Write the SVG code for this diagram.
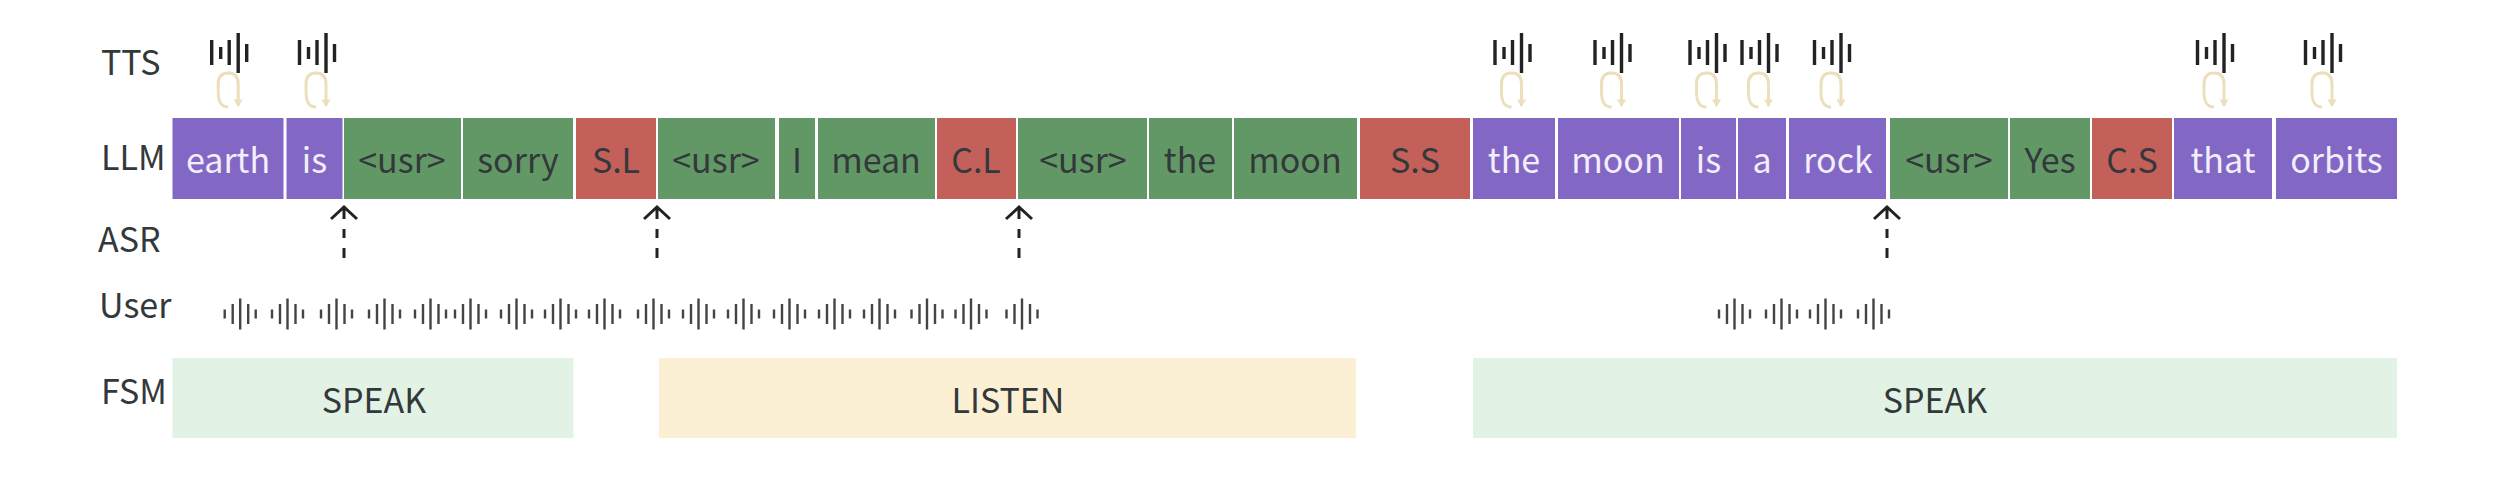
<svg xmlns="http://www.w3.org/2000/svg" width="2500" height="483" viewBox="0 0 2500 483">
<style>
text{font-family:"Noto Sans CJK SC","Noto Sans",sans-serif;font-size:34px;fill:#33383a;text-anchor:middle}
.lab{text-anchor:start}
.p{fill:#8268c4}.g{fill:#629866}.r{fill:#c4605a}
.w{fill:#f3eefb}
.tw{stroke:#222;stroke-width:3.4;fill:none}
.uw{stroke:#444;stroke-width:2.4;fill:none}
.lp{stroke:#ebdfbc;stroke-width:3;fill:none}
.ah{stroke:#222;stroke-width:3;fill:none}
</style>
<defs>
<g id="tts"><path class="tw" d="M0 7V32M9 14V26M17.500 7V32M26.500 0V40M35 11V29"/><path class="lp" d="M16.500 74C9 74 6.500 67 6.500 60V51C6.500 43 10 40 16.500 40C23 40 26.500 43 26.500 51V73"/><path d="M22 66.500H31L26.500 74Z" fill="#ebdfbc"/></g>
<path id="uw" class="uw" d="M0 -4.500V4.500M8 -10V10M15.500 -15.500V15.500M23.500 -10V10M31 -4.500V4.500"/>
<path id="ar" class="ah" d="M-13 219L0 207L13 219M0 207V219M0 229V238M0 248V258"/>
</defs>
<g id="labels">
<text class="lab" x="101" y="75">TTS</text>
<text class="lab" x="101" y="170">LLM</text>
<text class="lab" x="98" y="252">ASR</text>
<text class="lab" x="99" y="318">User</text>
<text class="lab" x="101" y="404">FSM</text>
</g>
<g id="tts-row">
<use href="#tts" x="211.700" y="33"/><use href="#tts" x="299.500" y="33"/><use href="#tts" x="1495" y="33"/><use href="#tts" x="1595" y="33"/><use href="#tts" x="1690" y="33"/><use href="#tts" x="1742" y="33"/><use href="#tts" x="1814.500" y="33"/><use href="#tts" x="2197.500" y="33"/><use href="#tts" x="2305.500" y="33"/>
</g>
<g id="llm-row">
<g id="t1"><rect class="p" x="172.500" y="118" width="111" height="81"/><text class="w" x="228" y="173">earth</text></g>
<g id="t2"><rect class="p" x="286.500" y="118" width="56" height="81"/><text class="w" x="314.500" y="173">is</text></g>
<g id="t3"><rect class="g" x="344" y="118" width="117" height="81"/><text x="402" y="173">&lt;usr&gt;</text></g>
<g id="t4"><rect class="g" x="463" y="118" width="110" height="81"/><text x="518" y="173">sorry</text></g>
<g id="t5"><rect class="r" x="576" y="118" width="80" height="81"/><text x="616" y="173">S.L</text></g>
<g id="t6"><rect class="g" x="658" y="118" width="117" height="81"/><text x="716" y="173">&lt;usr&gt;</text></g>
<g id="t7"><rect class="g" x="779" y="118" width="36" height="81"/><text x="797" y="173">I</text></g>
<g id="t8"><rect class="g" x="818" y="118" width="117" height="81"/><text x="876" y="173">mean</text></g>
<g id="t9"><rect class="r" x="937" y="118" width="79" height="81"/><text x="976" y="173">C.L</text></g>
<g id="t10"><rect class="g" x="1018" y="118" width="129" height="81"/><text x="1083" y="173">&lt;usr&gt;</text></g>
<g id="t11"><rect class="g" x="1149" y="118" width="83" height="81"/><text x="1190" y="173">the</text></g>
<g id="t12"><rect class="g" x="1234" y="118" width="123" height="81"/><text x="1295" y="173">moon</text></g>
<g id="t13"><rect class="r" x="1360" y="118" width="110" height="81"/><text x="1415" y="173">S.S</text></g>
<g id="t14"><rect class="p" x="1473" y="118" width="82" height="81"/><text class="w" x="1514" y="173">the</text></g>
<g id="t15"><rect class="p" x="1558" y="118" width="121" height="81"/><text class="w" x="1618" y="173">moon</text></g>
<g id="t16"><rect class="p" x="1681" y="118" width="55" height="81"/><text class="w" x="1708.500" y="173">is</text></g>
<g id="t17"><rect class="p" x="1738" y="118" width="48" height="81"/><text class="w" x="1762" y="173">a</text></g>
<g id="t18"><rect class="p" x="1789" y="118" width="97" height="81"/><text class="w" x="1838" y="173">rock</text></g>
<g id="t19"><rect class="g" x="1890" y="118" width="118" height="81"/><text x="1949" y="173">&lt;usr&gt;</text></g>
<g id="t20"><rect class="g" x="2010" y="118" width="80" height="81"/><text x="2050" y="173">Yes</text></g>
<g id="t21"><rect class="r" x="2092" y="118" width="80" height="81"/><text x="2132" y="173">C.S</text></g>
<g id="t22"><rect class="p" x="2174" y="118" width="98" height="81"/><text class="w" x="2223" y="173">that</text></g>
<g id="t23"><rect class="p" x="2276" y="118" width="121" height="81"/><text class="w" x="2336.500" y="173">orbits</text></g>
</g>
<g id="connectors">
<use href="#ar" x="344"/><use href="#ar" x="657"/><use href="#ar" x="1019"/><use href="#ar" x="1887"/>
</g>
<g id="user-row">
<use href="#uw" x="224.700" y="314"/><use href="#uw" x="272" y="314"/><use href="#uw" x="321" y="314"/><use href="#uw" x="369" y="314"/><use href="#uw" x="415" y="314"/><use href="#uw" x="455" y="314"/><use href="#uw" x="501" y="314"/><use href="#uw" x="545" y="314"/><use href="#uw" x="589" y="314"/><use href="#uw" x="638" y="314"/><use href="#uw" x="683" y="314"/><use href="#uw" x="728" y="314"/><use href="#uw" x="774" y="314"/><use href="#uw" x="819" y="314"/><use href="#uw" x="864" y="314"/><use href="#uw" x="911.500" y="314"/><use href="#uw" x="955.500" y="314"/><use href="#uw" x="1006.500" y="314"/>
<use href="#uw" x="1719" y="314"/><use href="#uw" x="1766" y="314"/><use href="#uw" x="1810" y="314"/><use href="#uw" x="1858" y="314"/>
</g>
<g id="fsm-row">
<g id="s1"><rect x="172.500" y="358" width="401" height="80" fill="#e2f2e5"/><text x="374" y="413">SPEAK</text></g>
<g id="s2"><rect x="659" y="358" width="697" height="80" fill="#fcf0d4"/><text x="1008" y="413">LISTEN</text></g>
<g id="s3"><rect x="1473" y="358" width="924" height="80" fill="#e2f2e5"/><text x="1935" y="413">SPEAK</text></g>
</g>
</svg>
